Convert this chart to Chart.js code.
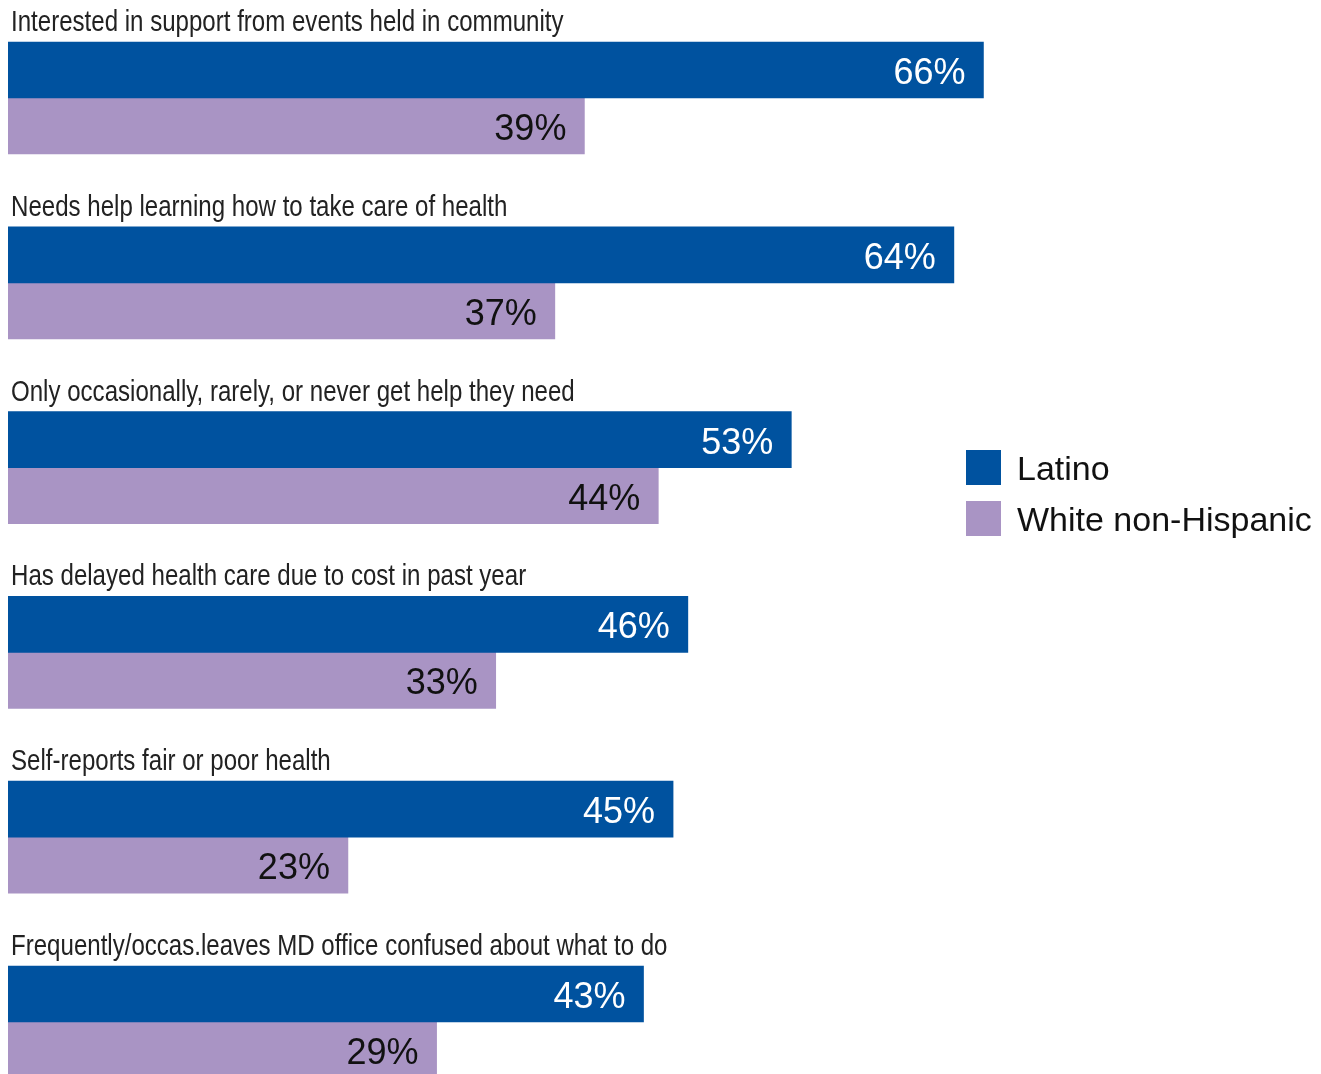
<!DOCTYPE html>
<html>
<head>
<meta charset="utf-8">
<title>Health support needs: Latino vs White non-Hispanic</title>
<script src="https://cdn.jsdelivr.net/npm/chart.js@4.4.1/dist/chart.umd.min.js"></script>
<style>
  html, body { margin: 0; padding: 0; background: #ffffff; overflow: hidden; }
  #wrap { position: relative; width: 1321px; height: 1074px; }
</style>
</head>
<body>
<div id="wrap"><canvas id="surveyChart"></canvas></div>
<script>
const categories = [
  "Interested in support from events held in community",
  "Needs help learning how to take care of health",
  "Only occasionally, rarely, or never get help they need",
  "Has delayed health care due to cost in past year",
  "Self-reports fair or poor health",
  "Frequently/occas.leaves MD office confused about what to do"
];
const latino = [66, 64, 53, 46, 45, 43];
const whiteNonHispanic = [39, 37, 44, 33, 23, 29];
const seriesNames = ["Latino", "White non-Hispanic"];

const BLUE = "#00529F";
const PURPLE = "#A994C4";

// category captions use a narrowed sans (horizontal squeeze below)
const CAT_FONT = "29px 'Liberation Sans', Arial, sans-serif";
const CAT_SQUEEZE = 0.83;
const VALUE_FONT = "36px 'Liberation Sans', Arial, sans-serif";
const LEGEND_FONT = "34px 'Liberation Sans', Arial, sans-serif";

function toPoints(values) {
  return values.map((v, i) => ({ x: v, y: i }));
}

// category text above each pair, percent inside each bar end
const barLabels = {
  id: "barLabels",
  afterDatasetsDraw(chart) {
    const ctx = chart.ctx;
    ctx.save();

    const first = chart.getDatasetMeta(0);
    ctx.font = CAT_FONT;
    ctx.fillStyle = "#222222";
    ctx.textAlign = "left";
    ctx.textBaseline = "alphabetic";
    first.data.forEach((bar, i) => {
      const top = bar.y - bar.height / 2;
      ctx.save();
      ctx.translate(chart.chartArea.left + 3, top - 11);
      ctx.scale(CAT_SQUEEZE, 1);
      ctx.fillText(categories[i], 0, 0);
      ctx.restore();
    });

    ctx.font = VALUE_FONT;
    ctx.textAlign = "right";
    chart.data.datasets.forEach((ds, di) => {
      const meta = chart.getDatasetMeta(di);
      ctx.fillStyle = di === 0 ? "#ffffff" : "#111111";
      meta.data.forEach((bar, i) => {
        ctx.fillText(ds.data[i].x + "%", bar.x - 18, bar.y + 14);
      });
    });
    ctx.restore();
  }
};

// legend box sitting right of the bars
const sideLegend = {
  id: "sideLegend",
  afterDraw(chart) {
    const ctx = chart.ctx;
    const x = 966, y = 450, box = 35, gap = 51;
    ctx.save();
    ctx.font = LEGEND_FONT;
    ctx.textAlign = "left";
    ctx.textBaseline = "alphabetic";
    chart.data.datasets.forEach((ds, i) => {
      const top = y + i * gap;
      ctx.fillStyle = ds.backgroundColor;
      ctx.fillRect(x, top, box, box);
      ctx.fillStyle = "#111111";
      ctx.fillText(ds.label, x + 51, top + box - 5);
    });
    ctx.restore();
  }
};

new Chart(document.getElementById("surveyChart"), {
  type: "bar",
  data: {
    datasets: [
      { label: seriesNames[0], data: toPoints(latino), backgroundColor: BLUE },
      { label: seriesNames[1], data: toPoints(whiteNonHispanic), backgroundColor: PURPLE }
    ]
  },
  options: {
    indexAxis: "y",
    responsive: true,
    maintainAspectRatio: false,
    animation: false,
    layout: { padding: { left: 8, right: 0, top: 0, bottom: 0 } },
    datasets: {
      bar: { barThickness: 56, borderWidth: 0, borderSkipped: false }
    },
    scales: {
      x: { type: "linear", min: 0, max: 88.84, display: false },
      y: { type: "linear", min: -0.5303, max: 5.2814, reverse: true, offset: false, display: false }
    },
    plugins: {
      legend: { display: false },
      tooltip: { enabled: false }
    }
  },
  plugins: [barLabels, sideLegend]
});
</script>
</body>
</html>
